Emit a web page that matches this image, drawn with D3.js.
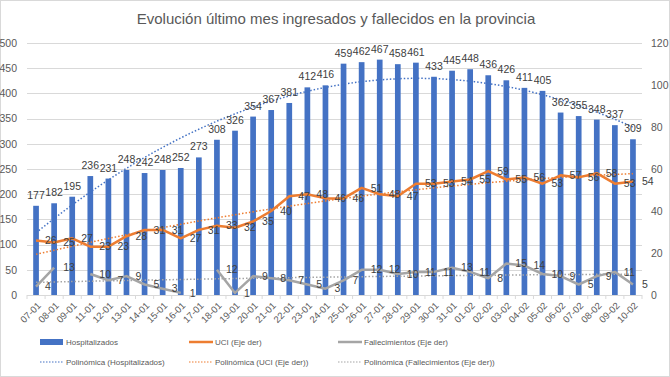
<!DOCTYPE html>
<html>
<head>
<meta charset="utf-8">
<script src="https://cdn.jsdelivr.net/npm/d3@7"></script>
<style>
  body { margin: 0; background: #fff; }
  svg { display: block; font-family: "Liberation Sans Narrow", "Liberation Sans", Arial, sans-serif; }
</style>
</head>
<body>
<div id="chart"></div>
<script>
/*********************************************************/
// Data
const dates = ["07-01","08-01","09-01","11-01","12-01","13-01","14-01","15-01","16-01","17-01",
               "18-01","19-01","20-01","21-01","22-01","23-01","24-01","25-01","26-01","27-01",
               "28-01","29-01","30-01","31-01","01-02","02-02","03-02","04-02","05-02","06-02",
               "07-02","08-02","09-02","10-02"];

const hospitalizados = [177,182,195,236,231,248,242,248,252,273,
                        308,326,354,367,381,412,416,459,462,467,
                        458,461,433,445,448,436,426,411,405,362,
                        355,348,337,309];

const uci = [26,25,27,23,23,28,31,31,27,31,
             33,32,35,40,47,48,46,46,51,48,
             47,53,53,54,55,59,55,56,53,57,
             56,58,53,54];

// null = no data that day (gap in the line)
const fallecimientos = [4,13,null,10,7,9,5,3,1,null,
                        12,1,9,8,7,5,3,7,12,12,
                        10,11,11,13,11,8,15,14,10,9,
                        5,9,11,5];

const leftTicks = [0,50,100,150,200,250,300,350,400,450,500];
const rightTicks = [0,20,40,60,80,100,120];

/*********************************************************/
const svgWidth = 670;
const svgHeight = 377;

const plot = { left: 27, right: 642, top: 43, bottom: 295 };

const colors = {
  hosp: "#4472C4",
  uci: "#ED7D31",
  fall: "#A5A5A5",
  text: "#595959",
  label: "#404040",
  grid: "#D9D9D9"
};

const svg = d3
  .select("#chart")
  .append("svg")
  .attr("width", svgWidth)
  .attr("height", svgHeight);

// chart area border
svg.append("rect")
  .attr("x", 0.5).attr("y", 0.5)
  .attr("width", svgWidth - 1).attr("height", svgHeight - 1)
  .attr("fill", "#fff")
  .attr("stroke", colors.grid)
  .attr("stroke-width", 1);

/********** Scales **********/
const xScale = d3.scaleBand()
  .domain(dates)
  .range([plot.left, plot.right])
  .paddingInner(0.685)
  .paddingOuter(0.3425);

const step = xScale.step();
const cx = (d) => xScale(d) + xScale.bandwidth() / 2;

const yLeft = d3.scaleLinear().domain([0, 500]).range([plot.bottom, plot.top]);
const yRight = d3.scaleLinear().domain([0, 120]).range([plot.bottom, plot.top]);

// fractional category index -> pixel (for trendlines)
const xIndex = d3.scaleLinear()
  .domain([0, dates.length - 1])
  .range([cx(dates[0]), cx(dates[dates.length - 1])]);

/********** Title **********/
svg.append("text")
  .text("Evolución último mes ingresados y fallecidos en la provincia")
  .attr("x", 336)
  .attr("y", 24)
  .attr("text-anchor", "middle")
  .attr("font-size", "15px")
  .attr("fill", colors.text);

/********** Gridlines **********/
svg.append("g")
  .selectAll("line")
  .data(leftTicks)
  .enter()
  .append("line")
  .attr("x1", plot.left)
  .attr("x2", plot.right)
  .attr("y1", (d) => Math.round(yLeft(d)) + 0.5)
  .attr("y2", (d) => Math.round(yLeft(d)) + 0.5)
  .attr("stroke", colors.grid)
  .attr("stroke-width", 1);

/********** Axes **********/
const leftAxis = d3.axisLeft(yLeft).tickValues(leftTicks).tickSize(0).tickPadding(0);
svg.append("g")
  .attr("transform", `translate(${plot.left - 10},0)`)
  .call(leftAxis)
  .call((g) => g.select(".domain").remove())
  .selectAll("text")
  .attr("fill", colors.text)
  .attr("font-size", "10.5px");

const rightAxis = d3.axisRight(yRight).tickValues(rightTicks).tickSize(0).tickPadding(0);
svg.append("g")
  .attr("transform", `translate(${plot.right + 9},0)`)
  .call(rightAxis)
  .call((g) => g.select(".domain").remove())
  .selectAll("text")
  .attr("fill", colors.text)
  .attr("font-size", "10.5px");

// category axis: tick marks between categories, rotated labels
const bottomAxis = d3.axisBottom(xScale).tickSize(0).tickPadding(0);
const xAxisG = svg.append("g")
  .attr("transform", `translate(0,${plot.bottom})`)
  .call(bottomAxis);
xAxisG.select(".domain").remove();
xAxisG.selectAll("text")
  .attr("fill", colors.text)
  .attr("font-size", "9.5px")
  .attr("text-anchor", "end")
  .attr("dy", "0.35em")
  .attr("transform", "translate(3,9) rotate(-45)");

svg.append("g")
  .selectAll("line")
  .data(d3.range(dates.length + 1))
  .enter()
  .append("line")
  .attr("x1", (i) => plot.left + i * step)
  .attr("x2", (i) => plot.left + i * step)
  .attr("y1", plot.bottom)
  .attr("y2", plot.bottom + 4)
  .attr("stroke", colors.grid);

/*********** Bars ***********/
svg.append("g")
  .selectAll("rect")
  .data(hospitalizados)
  .enter()
  .append("rect")
  .attr("x", (d, i) => xScale(dates[i]))
  .attr("y", (d) => yLeft(d))
  .attr("width", xScale.bandwidth())
  .attr("height", (d) => plot.bottom - yLeft(d))
  .attr("fill", colors.hosp);

/*********** Lines ***********/
const uciLine = d3.line()
  .x((d, i) => cx(dates[i]))
  .y((d) => yRight(d));

const fallLine = d3.line()
  .defined((d) => d !== null)
  .x((d, i) => cx(dates[i]))
  .y((d) => yRight(d));

svg.append("path")
  .datum(uci)
  .attr("d", uciLine)
  .attr("fill", "none")
  .attr("stroke", colors.uci)
  .attr("stroke-width", 2.5)
  .attr("stroke-linejoin", "round");

svg.append("path")
  .datum(fallecimientos)
  .attr("d", fallLine)
  .attr("fill", "none")
  .attr("stroke", colors.fall)
  .attr("stroke-width", 2.5)
  .attr("stroke-linejoin", "round");

/*********** Trendlines (polynomial, order 2) ***********/
function polyFit(values) {
  // least squares y = a + b x + c x^2, x = category index
  let pts = values.map((v, i) => [i, v]).filter((p) => p[1] !== null);
  let s = [0, 0, 0, 0, 0], t = [0, 0, 0];
  pts.forEach(([x, y]) => {
    for (let k = 0; k < 5; k++) s[k] += Math.pow(x, k);
    for (let k = 0; k < 3; k++) t[k] += y * Math.pow(x, k);
  });
  let m = [[s[0], s[1], s[2], t[0]], [s[1], s[2], s[3], t[1]], [s[2], s[3], s[4], t[2]]];
  for (let c = 0; c < 3; c++) {
    for (let r = c + 1; r < 3; r++) {
      let f = m[r][c] / m[c][c];
      for (let k = c; k < 4; k++) m[r][k] -= f * m[c][k];
    }
  }
  let coef = [0, 0, 0];
  for (let r = 2; r >= 0; r--) {
    let sum = m[r][3];
    for (let k = r + 1; k < 3; k++) sum -= m[r][k] * coef[k];
    coef[r] = sum / m[r][r];
  }
  return (x) => coef[0] + coef[1] * x + coef[2] * x * x;
}

const samples = d3.range(0, dates.length - 1 + 0.001, 0.25);

function drawTrend(values, yScale, color) {
  let f = polyFit(values);
  svg.append("path")
    .datum(samples)
    .attr("d", d3.line().x((x) => xIndex(x)).y((x) => yScale(f(x))))
    .attr("fill", "none")
    .attr("stroke", color)
    .attr("stroke-width", 1.5)
    .attr("stroke-dasharray", "1.5 2");
}

drawTrend(hospitalizados, yLeft, colors.hosp);
drawTrend(uci, yRight, colors.uci);
drawTrend(fallecimientos, yRight, colors.fall);

/*********** Data labels ***********/
svg.append("g")
  .selectAll("text")
  .data(hospitalizados)
  .enter()
  .append("text")
  .text((d) => d)
  .attr("x", (d, i) => cx(dates[i]))
  .attr("y", (d) => yLeft(d) - 7)
  .attr("text-anchor", "middle")
  .attr("font-size", "10.5px")
  .attr("fill", colors.label);

function lineLabels(values) {
  svg.append("g")
    .selectAll("text")
    .data(values.map((v, i) => ({ v: v, d: dates[i] })).filter((p) => p.v !== null))
    .enter()
    .append("text")
    .text((p) => p.v)
    .attr("x", (p) => cx(p.d) + 9)
    .attr("y", (p) => yRight(p.v))
    .attr("dy", "0.35em")
    .attr("font-size", "10.5px")
    .attr("fill", colors.label);
}

lineLabels(uci);
lineLabels(fallecimientos);

/*********** Legend ***********/
const legendItems = [
  { name: "Hospitalizados", color: colors.hosp, type: "bar", x: 40, y: 342 },
  { name: "UCI (Eje der)", color: colors.uci, type: "line", x: 189, y: 342 },
  { name: "Fallecimientos (Eje der)", color: colors.fall, type: "line", x: 338, y: 342 },
  { name: "Polinómica (Hospitalizados)", color: colors.hosp, type: "dot", x: 40, y: 362 },
  { name: "Polinómica (UCI (Eje der))", color: colors.uci, type: "dot", x: 189, y: 362 },
  { name: "Polinómica (Fallecimientos (Eje der))", color: colors.fall, type: "dot", x: 338, y: 362 }
];

const legend = svg.append("g")
  .selectAll("g")
  .data(legendItems)
  .enter()
  .append("g")
  .attr("transform", (d) => `translate(${d.x},${d.y})`);

legend.filter((d) => d.type === "bar")
  .append("rect")
  .attr("x", 0).attr("y", -3)
  .attr("width", 23).attr("height", 6)
  .attr("fill", (d) => d.color);

legend.filter((d) => d.type !== "bar")
  .append("line")
  .attr("x1", 0).attr("x2", 24)
  .attr("y1", 0).attr("y2", 0)
  .attr("stroke", (d) => d.color)
  .attr("stroke-width", (d) => (d.type === "line" ? 2.5 : 1.2))
  .attr("stroke-dasharray", (d) => (d.type === "dot" ? "1.5 1.5" : null));

legend.append("text")
  .text((d) => d.name)
  .attr("x", 26)
  .attr("y", 0)
  .attr("dy", "0.35em")
  .attr("font-size", "8px")
  .attr("fill", colors.text);
</script>
</body>
</html>
